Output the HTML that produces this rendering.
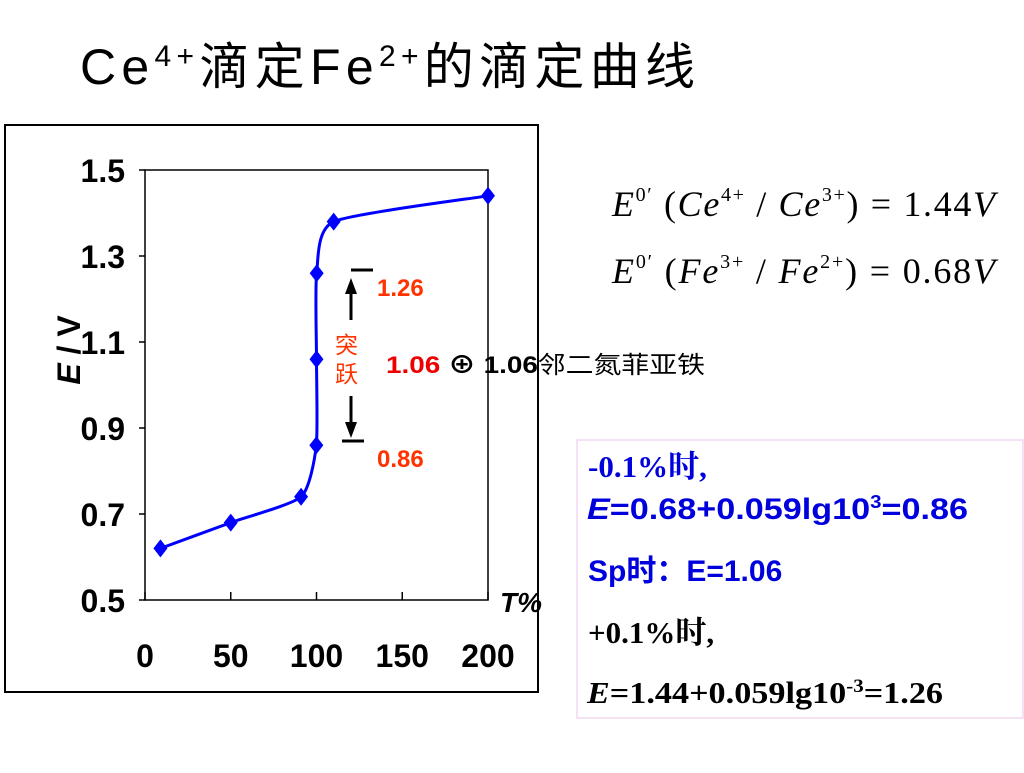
<!DOCTYPE html>
<html><head><meta charset="utf-8"><style>
body{margin:0;width:1024px;height:768px;background:#fff;overflow:hidden;font-family:"Liberation Sans","Noto Sans CJK SC",sans-serif}
</style></head><body>
<svg width="1024" height="768" viewBox="0 0 1024 768" xmlns="http://www.w3.org/2000/svg">
<text x="80" y="84" font-size="50" font-family="Liberation Sans, Noto Sans CJK SC, sans-serif" textLength="615" lengthAdjust="spacing">Ce<tspan font-size="30" dy="-18">4+</tspan><tspan dy="18">滴定Fe</tspan><tspan font-size="30" dy="-18">2+</tspan><tspan dy="18">的滴定曲线</tspan></text>
<rect x="5" y="125" width="533" height="567" fill="none" stroke="#000" stroke-width="2"/>
<g id="chart"></g>
<g font-family="Liberation Serif, serif" font-size="36">
<text x="612" y="216" textLength="383" lengthAdjust="spacing"><tspan font-style="italic">E</tspan><tspan font-size="20" dy="-15">0′</tspan><tspan dy="15"> (</tspan><tspan font-style="italic">Ce</tspan><tspan font-size="20" dy="-15">4+</tspan><tspan dy="15"> / </tspan><tspan font-style="italic">Ce</tspan><tspan font-size="20" dy="-15">3+</tspan><tspan dy="15">) = 1.44</tspan><tspan font-style="italic">V</tspan></text>
<text x="612" y="283" textLength="383" lengthAdjust="spacing"><tspan font-style="italic">E</tspan><tspan font-size="20" dy="-15">0′</tspan><tspan dy="15"> (</tspan><tspan font-style="italic">Fe</tspan><tspan font-size="20" dy="-15">3+</tspan><tspan dy="15"> / </tspan><tspan font-style="italic">Fe</tspan><tspan font-size="20" dy="-15">2+</tspan><tspan dy="15">) = 0.68</tspan><tspan font-style="italic">V</tspan></text>
</g>
<rect x="577" y="440" width="446" height="278" fill="#fff" stroke="#f0d8f0" stroke-width="1.5"/>
<g font-weight="bold">
<text x="588" y="477" fill="#0000dd" font-size="31" font-family="Liberation Serif, Noto Serif CJK SC, serif">-0.1%时,</text>
<text x="587" y="519" fill="#0000dd" font-size="30" textLength="381" lengthAdjust="spacingAndGlyphs"><tspan font-style="italic">E</tspan>=0.68+0.059lg10<tspan font-size="18" dy="-11">3</tspan><tspan dy="11">=0.86</tspan></text>
<text x="588" y="581" fill="#0000dd" font-size="30">Sp时：E=1.06</text>
<text x="588" y="643" fill="#000" font-size="31" font-family="Liberation Serif, Noto Serif CJK SC, serif">+0.1%时,</text>
<text x="587" y="703" fill="#000" font-size="31" font-family="Liberation Serif, serif" textLength="356" lengthAdjust="spacingAndGlyphs"><tspan font-style="italic">E</tspan>=1.44+0.059lg10<tspan font-size="19" dy="-11">-3</tspan><tspan dy="11">=1.26</tspan></text>
</g>
</svg>
<script>
const xTicks=[0,50,100,150,200];
const yTicks=[0.5,0.7,0.9,1.1,1.3,1.5];
const tValues=[9,50,91,99.9,100,100.1,110,200];
const eValues=[0.62,0.68,0.74,0.86,1.06,1.26,1.38,1.44];
const NS="http://www.w3.org/2000/svg";
const X0=145,X1=488,Y0=600,Y1=170;
const xs=v=>X0+(v-0)/(200-0)*(X1-X0);
const ys=v=>Y0-(v-0.5)/(1.5-0.5)*(Y0-Y1);
const g=document.getElementById('chart');
function mk(tag,attrs,parent){const e=document.createElementNS(NS,tag);for(const k in attrs)e.setAttribute(k,attrs[k]);(parent||g).appendChild(e);return e;}
const plot=mk('rect',{x:X0,y:Y1,width:X1-X0,height:Y0-Y1,fill:'none',stroke:'#000','stroke-width':1.5});


const fnt='"Liberation Sans Narrow","Liberation Sans",sans-serif';
xTicks.forEach(v=>{
 const t=mk('line',{x1:xs(v),x2:xs(v),y1:Y0,y2:Y0-8,stroke:'#000','stroke-width':1.5});
 
 
 const l=mk('text',{x:xs(v),y:667,'text-anchor':'middle','font-size':32,'font-weight':'bold','font-family':fnt});
 
 
 l.textContent=v;
});
yTicks.forEach(v=>{
 const t=mk('line',{x1:X0-6,x2:X0,y1:ys(v),y2:ys(v),stroke:'#000','stroke-width':1.5});
 
 
 const l=mk('text',{x:125,y:ys(v)+12,'text-anchor':'end','font-size':32,'font-weight':'bold','font-family':fnt});
 
 
 l.textContent=v.toFixed(1);
});
const yt=mk('text',{x:0,y:0,transform:'translate(80,350) rotate(-90)','text-anchor':'middle','font-size':32,'font-weight':'bold'});


yt.innerHTML='<tspan font-style="italic">E</tspan> / V';
const xt=mk('text',{x:500,y:612,'font-size':28,'font-weight':'bold','font-style':'italic','font-family':fnt});


xt.textContent='T%';
const P=tValues.map((t,i)=>[xs(t),ys(eValues[i])]);
let d='M'+P[0][0]+','+P[0][1];
for(let i=0;i<P.length-1;i++){
 const p0=P[Math.max(0,i-1)],p1=P[i],p2=P[i+1],p3=P[Math.min(P.length-1,i+2)];
 const k=1/6*0.6;
 const c1=[p1[0]+(p2[0]-p0[0])*k,p1[1]+(p2[1]-p0[1])*k];
 const c2=[p2[0]-(p3[0]-p1[0])*k,p2[1]-(p3[1]-p1[1])*k];
 d+=` C${c1[0]},${c1[1]} ${c2[0]},${c2[1]} ${p2[0]},${p2[1]}`;
}
const line=mk('path',{d:d,fill:'none',stroke:'#0000ff','stroke-width':3});


P.forEach(p=>{
 const m=mk('polygon',{points:`${p[0]},${p[1]-9} ${p[0]+7},${p[1]} ${p[0]},${p[1]+9} ${p[0]-7},${p[1]}`,fill:'#0000ff'});
 
 
});
const ann=mk('g',{});


ann.innerHTML=`
<line x1="351" y1="270" x2="373" y2="270" stroke="#000" stroke-width="3"/>
<line x1="342" y1="441" x2="364" y2="441" stroke="#000" stroke-width="3"/>
<line x1="351" y1="292" x2="351" y2="320" stroke="#000" stroke-width="3"/>
<polygon points="351,278 345,294 357,294" fill="#000"/>
<line x1="351" y1="396" x2="351" y2="425" stroke="#000" stroke-width="3"/>
<polygon points="351,438 345,422 357,422" fill="#000"/>
<text x="335" y="353" font-size="23" fill="#ff3300" font-family="Noto Sans CJK SC,sans-serif">突</text>
<text x="335" y="382" font-size="23" fill="#ff3300" font-family="Noto Sans CJK SC,sans-serif">跃</text>
<text x="377" y="296" font-size="24" font-weight="bold" fill="#ff3300">1.26</text>
<text x="377" y="467" font-size="24" font-weight="bold" fill="#ff3300">0.86</text>
<text x="386" y="373" font-size="24" font-weight="bold" textLength="319" lengthAdjust="spacingAndGlyphs"><tspan fill="#ee0000">1.06</tspan> ⊕ 1.06<tspan font-weight="normal" font-family="Noto Sans CJK SC,sans-serif">邻二氮菲亚铁</tspan></text>`;
</script>
</body></html>
